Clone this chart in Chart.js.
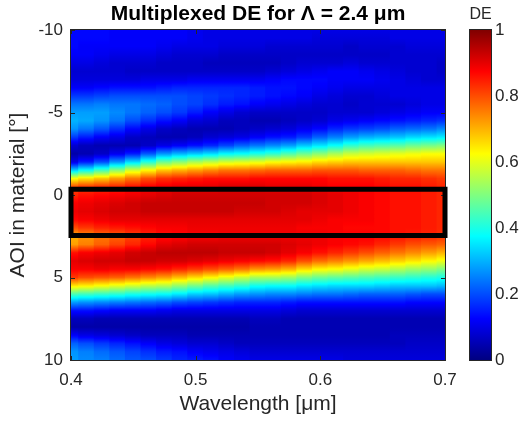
<!DOCTYPE html>
<html><head><meta charset="utf-8">
<script src="https://cdn.jsdelivr.net/npm/chart.js@4.4.0/dist/chart.umd.min.js"></script>
<style>
html,body{margin:0;padding:0;background:#fff;}
#wrap{position:relative;width:520px;height:423px;overflow:hidden;background:#fff;}
#main{position:absolute;left:0;top:0;}
#cbar{position:absolute;left:460px;top:0;}
</style></head><body>
<div id="wrap"><canvas id="main" width="460" height="423"></canvas><canvas id="cbar" width="60" height="423"></canvas></div>
<script>
// ---- data ----
const wavelengths = [0.4000,0.4125,0.4250,0.4375,0.4500,0.4625,0.4750,0.4875,0.5000,0.5125,0.5250,0.5375,0.5500,0.5625,0.5750,0.5875,0.6000,0.6125,0.6250,0.6375,0.6500,0.6625,0.6750,0.6875,0.7000];
const angles = [-10,-9.5,-9,-8.5,-8,-7.5,-7,-6.5,-6,-5.5,-5,-4.5,-4,-3.5,-3,-2.5,-2,-1.5,-1,-0.5,0,0.5,1,1.5,2,2.5,3,3.5,4,4.5,5,5.5,6,6.5,7,7.5,8,8.5,9,9.5,10];
// DE vs angle (-10 .. 10) for each wavelength column
const de4000 = [0.13,0.13,0.13,0.12,0.10,0.08,0.09,0.12,0.18,0.24, 0.28,0.30,0.27,0.18,0.08,0.04,0.10,0.33,0.62,0.80, 0.84,0.88,0.89,0.87,0.80,0.70,0.72,0.86,0.90,0.88, 0.82,0.65,0.45,0.28,0.14,0.06,0.04,0.12,0.22,0.27,0.28];
const de4125 = [0.13,0.13,0.12,0.12,0.10,0.08,0.09,0.12,0.18,0.24, 0.28,0.29,0.24,0.15,0.06,0.05,0.15,0.38,0.65,0.82, 0.86,0.89,0.90,0.88,0.82,0.73,0.75,0.88,0.91,0.88, 0.80,0.64,0.44,0.27,0.14,0.06,0.04,0.10,0.20,0.25,0.26];
const de4250 = [0.13,0.13,0.12,0.11,0.09,0.08,0.09,0.13,0.19,0.25, 0.28,0.27,0.21,0.12,0.05,0.07,0.20,0.44,0.68,0.83, 0.87,0.90,0.91,0.89,0.84,0.76,0.78,0.89,0.92,0.89, 0.79,0.62,0.43,0.26,0.13,0.05,0.04,0.09,0.18,0.23,0.25];
const de4375 = [0.12,0.12,0.12,0.10,0.08,0.08,0.09,0.14,0.20,0.24, 0.26,0.24,0.17,0.10,0.05,0.11,0.27,0.51,0.72,0.84, 0.88,0.91,0.92,0.90,0.85,0.78,0.81,0.90,0.92,0.88, 0.78,0.60,0.42,0.25,0.12,0.05,0.04,0.08,0.16,0.21,0.23];
const de4500 = [0.12,0.12,0.12,0.10,0.08,0.07,0.09,0.14,0.20,0.24, 0.24,0.20,0.13,0.07,0.05,0.15,0.34,0.58,0.76,0.86, 0.89,0.92,0.92,0.90,0.86,0.81,0.84,0.92,0.93,0.88, 0.76,0.58,0.40,0.24,0.12,0.05,0.04,0.07,0.14,0.19,0.21];
const de4625 = [0.12,0.12,0.12,0.10,0.08,0.07,0.10,0.14,0.20,0.23, 0.22,0.17,0.10,0.06,0.07,0.21,0.41,0.63,0.80,0.88, 0.90,0.93,0.93,0.90,0.87,0.84,0.87,0.93,0.93,0.87, 0.74,0.56,0.39,0.23,0.12,0.05,0.04,0.06,0.12,0.17,0.20];
const de4750 = [0.12,0.12,0.11,0.09,0.07,0.07,0.10,0.15,0.20,0.22, 0.20,0.14,0.07,0.05,0.10,0.27,0.48,0.68,0.83,0.89, 0.91,0.93,0.93,0.90,0.88,0.86,0.90,0.94,0.92,0.86, 0.72,0.55,0.38,0.22,0.11,0.05,0.04,0.06,0.10,0.15,0.18];
const de4875 = [0.12,0.12,0.10,0.08,0.07,0.07,0.10,0.16,0.20,0.20, 0.18,0.12,0.06,0.05,0.12,0.30,0.51,0.70,0.84,0.90, 0.92,0.93,0.93,0.90,0.88,0.87,0.91,0.94,0.92,0.84, 0.69,0.52,0.36,0.20,0.10,0.05,0.04,0.06,0.09,0.14,0.16];
const de5000 = [0.11,0.11,0.10,0.08,0.07,0.07,0.11,0.16,0.19,0.19, 0.15,0.09,0.05,0.06,0.14,0.32,0.54,0.72,0.85,0.90, 0.92,0.93,0.93,0.90,0.89,0.88,0.92,0.94,0.91,0.82, 0.66,0.49,0.33,0.19,0.10,0.05,0.04,0.05,0.08,0.12,0.15];
const de5125 = [0.10,0.10,0.10,0.08,0.06,0.07,0.11,0.16,0.18,0.17, 0.12,0.08,0.05,0.08,0.16,0.34,0.56,0.74,0.86,0.90, 0.92,0.93,0.93,0.90,0.89,0.88,0.92,0.94,0.90,0.80, 0.63,0.46,0.32,0.18,0.10,0.05,0.04,0.05,0.08,0.11,0.14];
const de5250 = [0.10,0.10,0.09,0.07,0.06,0.07,0.11,0.16,0.17,0.15, 0.10,0.06,0.05,0.09,0.19,0.37,0.58,0.76,0.86,0.91, 0.92,0.93,0.93,0.90,0.89,0.89,0.92,0.93,0.89,0.78, 0.60,0.44,0.30,0.17,0.10,0.05,0.04,0.05,0.07,0.10,0.12];
const de5375 = [0.10,0.10,0.09,0.07,0.06,0.07,0.11,0.16,0.16,0.14, 0.08,0.06,0.06,0.10,0.22,0.38,0.59,0.76,0.86,0.91, 0.92,0.93,0.92,0.90,0.89,0.89,0.92,0.93,0.88,0.76, 0.57,0.42,0.28,0.16,0.10,0.05,0.04,0.05,0.06,0.09,0.11];
const de5500 = [0.10,0.10,0.09,0.07,0.06,0.07,0.11,0.15,0.15,0.12, 0.07,0.05,0.07,0.12,0.24,0.40,0.60,0.77,0.87,0.91, 0.92,0.93,0.92,0.90,0.89,0.89,0.92,0.93,0.87,0.73, 0.54,0.39,0.27,0.16,0.10,0.06,0.05,0.05,0.06,0.08,0.10];
const de5625 = [0.10,0.10,0.08,0.07,0.06,0.08,0.12,0.14,0.14,0.11, 0.07,0.05,0.08,0.14,0.26,0.42,0.62,0.78,0.87,0.90, 0.92,0.92,0.92,0.90,0.89,0.89,0.92,0.92,0.86,0.72, 0.54,0.38,0.26,0.16,0.10,0.06,0.05,0.05,0.06,0.08,0.10];
const de5750 = [0.10,0.10,0.08,0.07,0.07,0.09,0.13,0.14,0.13,0.10, 0.07,0.06,0.09,0.15,0.28,0.45,0.63,0.78,0.87,0.90, 0.92,0.92,0.91,0.90,0.89,0.89,0.91,0.90,0.84,0.70, 0.53,0.38,0.26,0.15,0.09,0.05,0.05,0.05,0.06,0.08,0.10];
const de5875 = [0.10,0.10,0.08,0.07,0.08,0.10,0.13,0.13,0.12,0.09, 0.07,0.07,0.11,0.18,0.32,0.48,0.64,0.78,0.87,0.90, 0.92,0.92,0.90,0.90,0.88,0.89,0.90,0.88,0.80,0.66, 0.50,0.36,0.25,0.14,0.08,0.05,0.05,0.05,0.06,0.08,0.10];
const de6000 = [0.10,0.09,0.08,0.07,0.08,0.11,0.13,0.12,0.10,0.08, 0.07,0.08,0.13,0.22,0.35,0.51,0.66,0.79,0.87,0.89, 0.91,0.91,0.90,0.89,0.88,0.89,0.89,0.86,0.77,0.63, 0.48,0.35,0.24,0.14,0.08,0.05,0.05,0.05,0.06,0.08,0.10];
const de6125 = [0.10,0.09,0.08,0.07,0.08,0.12,0.12,0.11,0.09,0.08, 0.08,0.10,0.16,0.25,0.38,0.54,0.67,0.79,0.86,0.88, 0.90,0.90,0.90,0.88,0.88,0.88,0.88,0.84,0.75,0.62, 0.47,0.34,0.24,0.14,0.08,0.05,0.05,0.05,0.06,0.08,0.10];
const de6250 = [0.10,0.09,0.07,0.07,0.09,0.12,0.12,0.10,0.08,0.07, 0.08,0.11,0.18,0.28,0.42,0.57,0.68,0.79,0.86,0.88, 0.89,0.89,0.89,0.88,0.87,0.88,0.87,0.82,0.73,0.60, 0.46,0.34,0.23,0.14,0.08,0.05,0.05,0.05,0.06,0.08,0.09];
const de6375 = [0.10,0.09,0.08,0.07,0.08,0.11,0.12,0.10,0.08,0.08, 0.08,0.12,0.19,0.30,0.44,0.58,0.68,0.78,0.86,0.88, 0.88,0.88,0.88,0.88,0.87,0.88,0.86,0.80,0.71,0.58, 0.45,0.34,0.22,0.14,0.08,0.05,0.05,0.05,0.06,0.08,0.09];
const de6500 = [0.10,0.09,0.08,0.07,0.08,0.10,0.11,0.10,0.09,0.08, 0.09,0.13,0.20,0.31,0.45,0.59,0.68,0.78,0.85,0.87, 0.87,0.87,0.87,0.87,0.87,0.87,0.84,0.78,0.69,0.57, 0.44,0.33,0.22,0.14,0.08,0.05,0.05,0.05,0.06,0.08,0.09];
const de6625 = [0.10,0.10,0.08,0.08,0.08,0.09,0.10,0.10,0.10,0.08, 0.10,0.14,0.22,0.32,0.46,0.60,0.68,0.78,0.84,0.86, 0.86,0.86,0.86,0.86,0.86,0.86,0.82,0.76,0.67,0.55, 0.43,0.32,0.22,0.14,0.08,0.05,0.05,0.06,0.06,0.08,0.09];
const de6750 = [0.10,0.10,0.09,0.08,0.08,0.08,0.09,0.10,0.10,0.09, 0.11,0.15,0.23,0.34,0.48,0.61,0.68,0.77,0.84,0.86, 0.86,0.86,0.86,0.86,0.86,0.85,0.80,0.74,0.65,0.53, 0.42,0.32,0.21,0.13,0.08,0.05,0.05,0.06,0.07,0.08,0.09];
const de6875 = [0.10,0.10,0.09,0.08,0.08,0.08,0.08,0.10,0.10,0.10, 0.12,0.16,0.24,0.35,0.49,0.62,0.68,0.76,0.83,0.85, 0.85,0.85,0.85,0.85,0.85,0.84,0.79,0.72,0.63,0.52, 0.41,0.32,0.20,0.13,0.08,0.05,0.05,0.06,0.07,0.08,0.09];
const de7000 = [0.10,0.10,0.09,0.08,0.07,0.07,0.08,0.10,0.10,0.10, 0.12,0.17,0.26,0.36,0.50,0.62,0.68,0.76,0.82,0.84, 0.84,0.84,0.84,0.84,0.84,0.83,0.78,0.70,0.61,0.50, 0.40,0.31,0.20,0.13,0.08,0.05,0.05,0.06,0.07,0.08,0.09];
const deColumns = [de4000,de4125,de4250,de4375,de4500,de4625,de4750,de4875,de5000,de5125,de5250,de5375,de5500,de5625,de5750,de5875,de6000,de6125,de6250,de6375,de6500,de6625,de6750,de6875,de7000];

const xTicks = [0.4,0.5,0.6,0.7];
const yTicks = [-10,-5,0,5,10];
const cbTicks = [0,0.2,0.4,0.6,0.8,1];
const boxWavelengths = [0.4,0.7];
const boxAngles = [-0.35,2.45];
const titleText = 'Multiplexed DE for Λ = 2.4 μm';
const xLabel = 'Wavelength [μm]';
const yLabel = 'AOI in material [°]';
const cbLabel = 'DE';

// ---- styling ----
const FONT = "'Liberation Sans', Arial, Helvetica, sans-serif";
const TXT = '#262626';
function clamp01(v){return Math.max(0,Math.min(1,v));}
function jet(v){
  v = clamp01(v);
  const r = clamp01(1.5-Math.abs(4*v-3)), g = clamp01(1.5-Math.abs(4*v-2)), b = clamp01(1.5-Math.abs(4*v-1));
  return 'rgb('+Math.round(r*255)+','+Math.round(g*255)+','+Math.round(b*255)+')';
}

// vertical shading of one wavelength column, positioned with the y scale
function columnShade(context){
  const chart = context.chart, a = chart.chartArea, ys = chart.scales.y;
  const col = deColumns[context.dataIndex];
  if(!a || !ys || !col) return jet(0.5);
  const y0 = ys.getPixelForValue(angles[0]), y1 = ys.getPixelForValue(angles[angles.length-1]);
  const g = chart.ctx.createLinearGradient(0,y0,0,y1);
  const sub = 8;
  for(let i=0;i<angles.length-1;i++){
    for(let s=0;s<sub;s++){
      const t = s/sub;
      const py = ys.getPixelForValue(angles[i]+(angles[i+1]-angles[i])*t);
      g.addColorStop(clamp01((py-y0)/(y1-y0)), jet(col[i]+(col[i+1]-col[i])*t));
    }
  }
  g.addColorStop(1, jet(col[col.length-1]));
  return g;
}

const heatSet = {
  type:'bar',
  data: wavelengths.map(w=>({x:w, y:[angles[0], angles[angles.length-1]]})),
  backgroundColor: columnShade,
  borderWidth:0, grouped:false, barPercentage:1.08, categoryPercentage:1, order:1
};
const boxSet = {
  type:'line',
  data:[
    {x:boxWavelengths[0],y:boxAngles[0]},{x:boxWavelengths[1],y:boxAngles[0]},
    {x:boxWavelengths[1],y:boxAngles[1]},{x:boxWavelengths[0],y:boxAngles[1]},
    {x:boxWavelengths[0],y:boxAngles[0]},{x:boxWavelengths[1],y:boxAngles[0]}
  ],
  borderColor:'#000', borderWidth:5, pointRadius:0, fill:false, tension:0,
  clip:false, borderJoinStyle:'miter', borderCapStyle:'butt', order:0
};
const boxIndex = 1;

const framePlugin = {
  id:'frame',
  beforeDatasetDraw(chart,args){
    if(args.index!==boxIndex) return;
    const {ctx, chartArea:a, scales} = chart;
    ctx.save();
    ctx.strokeStyle = TXT; ctx.lineWidth = 1;
    ctx.strokeRect(a.left-0.5,a.top-0.5,a.right-a.left+1,a.bottom-a.top+1);
    ctx.beginPath();
    xTicks.forEach(v=>{const px=Math.round(scales.x.getPixelForValue(v))+0.5; ctx.moveTo(px,a.bottom); ctx.lineTo(px,a.bottom-4); ctx.moveTo(px,a.top); ctx.lineTo(px,a.top+4);});
    yTicks.forEach(v=>{const py=Math.round(scales.y.getPixelForValue(v))+0.5; ctx.moveTo(a.left,py); ctx.lineTo(a.left+4,py); ctx.moveTo(a.right,py); ctx.lineTo(a.right-4,py);});
    ctx.stroke();
    ctx.restore();
  }
};
const titlePlugin = {
  id:'ttl',
  afterDraw(chart){
    const {ctx, chartArea:a} = chart;
    ctx.save();
    ctx.font = 'bold 21px '+FONT; ctx.fillStyle = '#000';
    ctx.textAlign = 'center'; ctx.textBaseline = 'middle';
    ctx.fillText(titleText,(a.left+a.right)/2,14);
    ctx.restore();
  }
};

const mainChart = new Chart(document.getElementById('main'),{
  type:'bar',
  data:{datasets:[heatSet, boxSet]},
  options:{
    responsive:false, animation:false, events:[],
    layout:{padding:{top:30,right:15,left:0,bottom:0}},
    plugins:{legend:{display:false},tooltip:{enabled:false},title:{display:false}},
    scales:{
      x:{type:'linear',min:0.4,max:0.7,offset:false,
        afterBuildTicks:s=>{s.ticks=xTicks.map(v=>({value:v}));},
        ticks:{font:{size:17,family:FONT},color:TXT,padding:10,maxRotation:0,autoSkip:false,callback:v=>Number(v).toFixed(1)},
        grid:{display:false,drawTicks:false,offset:false},border:{display:false},
        title:{display:true,text:xLabel,font:{size:21,family:FONT},color:TXT,padding:{top:0,bottom:6}},
        afterFit:s=>{s.height=63; s.paddingLeft=0; s.paddingRight=0;}
      },
      y:{type:'linear',reverse:true,min:-10,max:10,
        afterBuildTicks:s=>{s.ticks=yTicks.map(v=>({value:v}));},
        ticks:{font:{size:17,family:FONT},color:TXT,padding:8,autoSkip:false,callback:v=>String(v)},
        grid:{display:false,drawTicks:false},border:{display:false},
        title:{display:true,text:yLabel,font:{size:21,family:FONT},color:TXT,padding:{top:6,bottom:0}},
        afterFit:s=>{s.width=71; s.paddingTop=0; s.paddingBottom=0;}
      }
    }
  },
  plugins:[framePlugin,titlePlugin]
});
mainChart.update();

// ---- colorbar ----
function cbGradient(context){
  const chart = context.chart; const a = chart.chartArea;
  if(!a) return jet(0.5);
  const g = chart.ctx.createLinearGradient(0,a.bottom,0,a.top);
  [0,0.125,0.375,0.625,0.875,1].forEach(s=>g.addColorStop(s,jet(s)));
  return g;
}
const cbPlugin = {
  id:'cbdeco',
  afterDraw(chart){
    const {ctx, chartArea:a} = chart;
    ctx.save();
    ctx.strokeStyle = TXT; ctx.lineWidth = 1;
    ctx.strokeRect(a.left-0.5,a.top-0.5,a.right-a.left+1,a.bottom-a.top+1);
    ctx.font = '16px '+FONT; ctx.fillStyle = TXT;
    ctx.textAlign = 'center'; ctx.textBaseline = 'middle';
    ctx.fillText(cbLabel,(a.left+a.right)/2,15);
    ctx.restore();
  }
};
new Chart(document.getElementById('cbar'),{
  type:'bar',
  data:{labels:[cbLabel],datasets:[{data:[[0,1]],backgroundColor:cbGradient,borderWidth:0,barPercentage:1,categoryPercentage:1}]},
  options:{
    responsive:false, animation:false, events:[],
    layout:{padding:{left:10,top:30,bottom:63,right:0}},
    plugins:{legend:{display:false},tooltip:{enabled:false}},
    scales:{
      x:{display:false},
      y:{position:'right',min:0,max:1,
        afterBuildTicks:s=>{s.ticks=cbTicks.map(v=>({value:v}));},
        ticks:{font:{size:17,family:FONT},color:TXT,padding:4,autoSkip:false,callback:v=>String(v)},
        grid:{display:false,drawTicks:false},border:{display:false},
        afterFit:s=>{s.width=29;}
      }
    }
  },
  plugins:[cbPlugin]
});
</script>
</body></html>
